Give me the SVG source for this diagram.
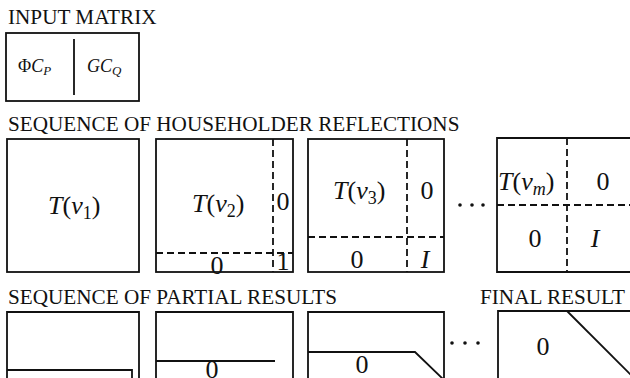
<svg xmlns="http://www.w3.org/2000/svg" width="630" height="378" viewBox="0 0 630 378">
<style>
text{font-family:'Liberation Serif','Times New Roman',serif;fill:#111}
.h{font-size:21.2px}
.m{font-size:26px}
.s{font-size:18px}
.i{font-style:italic}
.b{fill:none;stroke:#111;stroke-width:1.8}
.d{fill:none;stroke:#111;stroke-width:1.8;stroke-dasharray:7 4}
.dot{fill:#111}
</style>
<rect width="630" height="378" fill="#fff"/>
<g id="labels">
<text class="h" x="8" y="24">INPUT MATRIX</text>
<text class="h" x="8" y="131">SEQUENCE OF HOUSEHOLDER REFLECTIONS</text>
<text class="h" x="8" y="304">SEQUENCE OF PARTIAL RESULTS</text>
<text class="h" x="480" y="304">FINAL RESULT</text>
</g>
<g id="input">
<rect class="b" x="6" y="33" width="133" height="68"/>
<line class="b" x1="74" y1="39" x2="74" y2="95"/>
<text class="s" x="18" y="72">Φ<tspan class="i">C</tspan><tspan class="i" font-size="13" dy="3">P</tspan></text>
<text class="s" x="87" y="72"><tspan class="i">GC</tspan><tspan class="i" font-size="13" dy="3">Q</tspan></text>
</g>
<g id="T1">
<rect class="b" x="7" y="139" width="132" height="133"/>
<text class="m" x="48" y="214"><tspan class="i">T</tspan>(<tspan class="i">v</tspan><tspan font-size="18" dy="5">1</tspan><tspan dy="-5">)</tspan></text>
</g>
<g id="T2">
<rect class="b" x="156" y="139" width="137" height="133"/>
<line class="d" x1="273" y1="139" x2="273" y2="272"/>
<line class="d" x1="156" y1="253" x2="293" y2="253"/>
<text class="m" x="192" y="212"><tspan class="i">T</tspan>(<tspan class="i">v</tspan><tspan font-size="18" dy="5">2</tspan><tspan dy="-5">)</tspan></text>
<text class="m" x="283" y="210" text-anchor="middle">0</text>
<text class="m" x="217" y="274" text-anchor="middle">0</text>
<text class="m" x="283" y="270" text-anchor="middle">1</text>
</g>
<g id="T3">
<rect class="b" x="308" y="139" width="136" height="133"/>
<line class="d" x1="407" y1="139" x2="407" y2="272"/>
<line class="d" x1="308" y1="237" x2="444" y2="237"/>
<text class="m" x="333" y="199"><tspan class="i">T</tspan>(<tspan class="i">v</tspan><tspan font-size="18" dy="5">3</tspan><tspan dy="-5">)</tspan></text>
<text class="m" x="427" y="199" text-anchor="middle">0</text>
<text class="m" x="357" y="268" text-anchor="middle">0</text>
<text class="m i" x="425" y="268" text-anchor="middle">I</text>
</g>
<g id="dots1">
<circle class="dot" cx="460" cy="205" r="1.8"/>
<circle class="dot" cx="472" cy="205" r="1.8"/>
<circle class="dot" cx="483" cy="205" r="1.8"/>
</g>
<g id="Tm">
<path class="b" d="M634,138 H497 V272 H634"/>
<line class="d" x1="567" y1="138" x2="567" y2="272"/>
<line class="d" x1="497" y1="205" x2="630" y2="205"/>
<text class="m" x="498" y="190"><tspan class="i">T</tspan>(<tspan class="i">v</tspan><tspan class="i" font-size="18" dy="5">m</tspan><tspan dy="-5">)</tspan></text>
<text class="m" x="603" y="190" text-anchor="middle">0</text>
<text class="m" x="535" y="247" text-anchor="middle">0</text>
<text class="m i" x="595" y="247" text-anchor="middle">I</text>
</g>
<g id="P1">
<path class="b" d="M7,382 V312 H139 V382"/>
<path class="b" d="M7,370 H132 V382"/>
</g>
<g id="P2">
<path class="b" d="M156,382 V312 H293 V382"/>
<line class="b" x1="156" y1="361" x2="275" y2="361"/>
<text class="m" x="212" y="378" text-anchor="middle">0</text>
</g>
<g id="P3">
<path class="b" d="M308,382 V312 H444 V382"/>
<path class="b" d="M308,352 H415 L444,380"/>
<text class="m" x="362" y="373" text-anchor="middle">0</text>
</g>
<g id="dots2">
<circle class="dot" cx="452" cy="343" r="1.8"/>
<circle class="dot" cx="465" cy="343" r="1.8"/>
<circle class="dot" cx="478" cy="343" r="1.8"/>
</g>
<g id="final">
<path class="b" d="M498,382 V311 H634"/>
<line class="b" x1="567" y1="311" x2="636" y2="380"/>
<text class="m" x="543" y="355" text-anchor="middle">0</text>
</g>
</svg>
